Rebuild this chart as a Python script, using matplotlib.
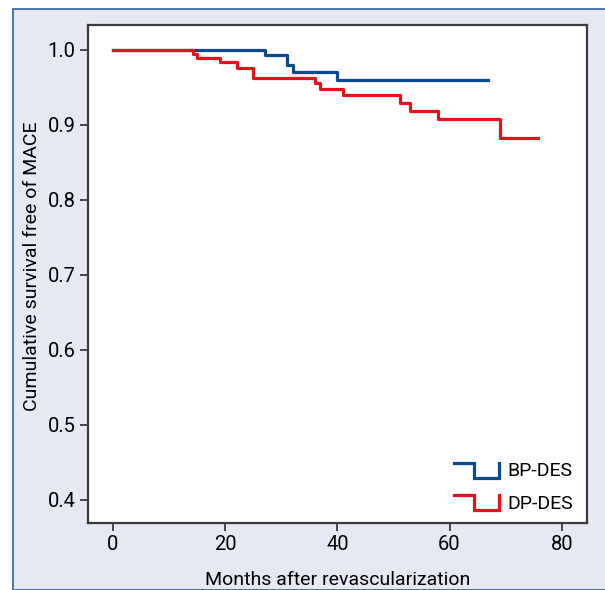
import numpy as np
import matplotlib
matplotlib.use('Agg')
import matplotlib.pyplot as plt
from matplotlib.lines import Line2D
from matplotlib.patches import Rectangle
from matplotlib.legend_handler import HandlerBase

plt.rcParams['font.family'] = ['Roboto', 'DejaVu Sans']

# Kaplan-Meier step data (months, survival)
bp_months = [0, 27.1, 31.0, 32.1, 39.9, 66.8]
bp_surv = [1.0, 0.993, 0.980, 0.971, 0.960, 0.960]
dp_months = [0, 14.3, 15.0, 19.1, 22.1, 25.0, 36.0, 36.9, 41.0, 51.2, 52.9, 57.9, 69.0, 75.8]
dp_surv = [1.0, 0.995, 0.989, 0.984, 0.976, 0.963, 0.956, 0.948, 0.940, 0.929, 0.919, 0.908, 0.883, 0.883]

x_ticks = [0, 20, 40, 60, 80]
y_ticks = [0.4, 0.5, 0.6, 0.7, 0.8, 0.9, 1.0]

blue = '#0b4a8f'
red = '#e8101e'
W, H = 605, 590


class StepHandler(HandlerBase):
    # draws the legend key as a small step
    def create_artists(self, legend, orig_handle, xdescent, ydescent,
                       width, height, fontsize, trans):
        x0, x1 = -xdescent, -xdescent + width
        xm = x0 + width * 0.45
        ytop = -ydescent + height * 1.0
        ybot = -ydescent - height * 0.1
        ln = Line2D([x0, xm, xm, x1, x1], [ytop, ytop, ybot, ybot, ytop],
                    color=orig_handle.get_color(), lw=orig_handle.get_linewidth(),
                    solid_joinstyle='miter')
        ln.set_transform(trans)
        return [ln]


fig = plt.figure(figsize=(W / 100, H / 100), dpi=100)
fig.patch.set_facecolor('white')
fig.patches.append(Rectangle((13 / W, 0), 1, 1 - 9 / H, transform=fig.transFigure,
                             facecolor='#e6e8f4', edgecolor='#2a62a8', lw=1.2, zorder=-5))

ax = fig.add_axes([88 / W, 1 - 523 / H, (587 - 88) / W, (523 - 25) / H])
ax.set_facecolor('white')
ax.set_zorder(2)

lb, = ax.step(bp_months, bp_surv, where='post', color=blue, lw=2.3, label='BP-DES', zorder=3)
lr, = ax.step(dp_months, dp_surv, where='post', color=red, lw=2.3, label='DP-DES', zorder=4)

ax.set_xlim(-4.45, 84.5)
ax.set_ylim(0.369, 1.033)
ax.set_xticks(x_ticks)
ax.set_yticks(y_ticks)
ax.set_yticklabels(['%.1f' % v for v in y_ticks])

for s in ax.spines.values():
    s.set_color('#3a3a3a')
    s.set_linewidth(1.6)
ax.tick_params(labelsize=14.5, length=6, width=1.3, color='#3a3a3a', pad=3)

ax.set_xlabel('Months after revascularization', fontsize=14, labelpad=12)
ax.set_ylabel('Cumulative survival free of MACE', fontsize=14)
ax.yaxis.set_label_coords(-0.094, 0.516)

ax.legend(handles=[lb, lr], handler_map={Line2D: StepHandler()}, loc='lower right',
          bbox_to_anchor=(573 / W, 1 - 513 / H), bbox_transform=fig.transFigure,
          frameon=False, fontsize=14, handlelength=2.3, handletextpad=0.45,
          labelspacing=0.75, borderpad=0, borderaxespad=0)

fig.savefig('out.png', dpi=100)
